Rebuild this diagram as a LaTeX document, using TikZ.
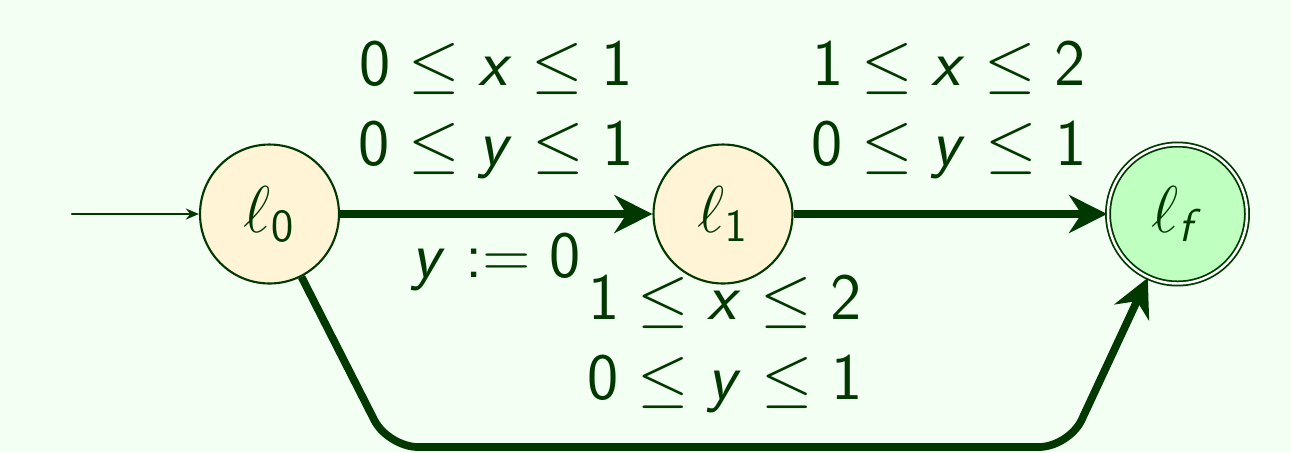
\documentclass[tikz,border=0pt]{standalone}
\usetikzlibrary{arrows.meta}
\DeclareSymbolFont{operators}{OT1}{cmss}{m}{n}
\DeclareSymbolFont{sfslanted}{OT1}{cmss}{m}{sl}
\DeclareMathSymbol{x}{\mathalpha}{sfslanted}{`x}
\DeclareMathSymbol{y}{\mathalpha}{sfslanted}{`y}
\DeclareMathSymbol{f}{\mathalpha}{sfslanted}{`f}
\definecolor{dkgreen}{HTML}{003800}
\definecolor{bgmint}{HTML}{F2FFF2}
\definecolor{locfill}{HTML}{FFF5D6}
\definecolor{finfill}{HTML}{BFFFC0}
\begin{document}
\begin{tikzpicture}[line cap=round,line join=round,
  every node/.style={font=\fontsize{17.28}{20.9}\selectfont, text=dkgreen, scale=1.09},
  loc/.style={circle, draw=dkgreen, line width=0.6pt, fill=locfill,
    minimum size=1.275cm, inner sep=0pt},
  finloc/.style={loc, fill=finfill, line width=0.5pt, double=white,
    double distance=0.7pt},
  trans/.style={draw=dkgreen, line width=2.2pt, line cap=butt,
    -{Stealth[length=0.38cm,width=0.38cm]}},
  guard/.style={align=center, inner sep=0pt}]
  \useasboundingbox (0,0) rectangle (12.91,4.52);
  \fill[bgmint] (0,0) rectangle (12.91,4.52);
  \node[loc] (l0) at (2.695,2.38) {$\ell_0$};
  \node[loc] (l1) at (7.23,2.38) {$\ell_1$};
  \node[finloc] (lf) at (11.775,2.38) {$\ell_f$};
  \coordinate (start) at (0.72,2.38);
  \coordinate (bl) at (3.88,0.05);
  \coordinate (br) at (10.69,0.05);
  \draw[dkgreen, line width=0.6pt, -{Stealth[length=0.13cm,width=0.11cm]}] (start) -- (l0);
  \draw[trans] (l0) -- (l1);
  \draw[trans] (l1) -- (lf);
  \draw[trans, rounded corners=0.3cm] (l0) -- (bl) -- (br) -- (lf);
  \node[guard] (g01) at (4.96,3.42) {$0\le x\le 1$\\$0\le y\le 1$};
  \node[guard] (r01) at (4.96,1.90) {$y:=0$};
  \node[guard] (g1f) at (9.49,3.42) {$1\le x\le 2$\\$0\le y\le 1$};
  \node[guard] (g0f) at (7.25,1.08) {$1\le x\le 2$\\$0\le y\le 1$};
\end{tikzpicture}
\end{document}
